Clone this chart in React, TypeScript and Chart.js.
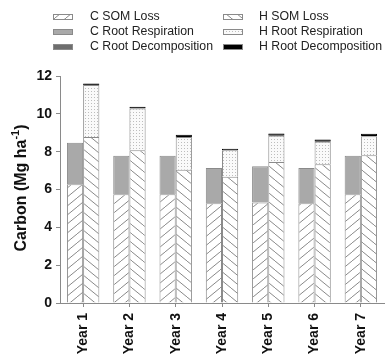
import React, { useEffect, useRef } from "react";
import { Chart, registerables } from "chart.js";
Chart.register(...registerables);

const years = ["Year 1", "Year 2", "Year 3", "Year 4", "Year 5", "Year 6", "Year 7"];
const cSomLoss = [6.28, 5.75, 5.75, 5.27, 5.31, 5.27, 5.75];
const cRootResp = [2.19, 2.03, 2.03, 1.87, 1.92, 1.87, 2.03];
const cRootDecomp = [0, 0, 0, 0, 0, 0, 0];
const hSomLoss = [8.78, 8.08, 7.05, 6.67, 7.46, 7.34, 7.81];
const hRootResp = [2.75, 2.2, 1.73, 1.41, 1.38, 1.18, 1.01];
const hRootDecomp = [0.08, 0.09, 0.11, 0.08, 0.12, 0.12, 0.13];
const yTicks = [0, 2, 4, 6, 8, 10, 12];

const FONT = "'Liberation Sans', Arial, sans-serif";
const EDGE = "#8a8a8a";

function hatch(dir: "/" | "\\"): CanvasPattern {
  const w = 11, h = 9;
  const c = document.createElement("canvas");
  c.width = w; c.height = h;
  const g = c.getContext("2d")!;
  g.fillStyle = "#fff";
  g.fillRect(0, 0, w, h);
  g.strokeStyle = "#7a7a7a";
  g.lineWidth = 0.9;
  const seg = (x1: number, y1: number, x2: number, y2: number) => {
    g.beginPath(); g.moveTo(x1, y1); g.lineTo(x2, y2); g.stroke();
  };
  for (const ox of [-w, 0, w]) {
    if (dir === "/") seg(ox, h, ox + w, 0);
    else seg(ox, 0, ox + w, h);
  }
  return g.createPattern(c, "repeat")!;
}

function dots(): CanvasPattern {
  const c = document.createElement("canvas");
  c.width = 3; c.height = 3;
  const g = c.getContext("2d")!;
  g.fillStyle = "#fafafa";
  g.fillRect(0, 0, 3, 3);
  g.fillStyle = "#bdbdbd";
  g.fillRect(1, 1, 1, 1);
  return g.createPattern(c, "repeat")!;
}

export default function App() {
  const ref = useRef<HTMLCanvasElement | null>(null);
  useEffect(() => {
    document.body.style.margin = "0";
    const cPat = hatch("/");
    const hPat = hatch("\\");
    const dPat = dots();
    const legendItems = [
      { label: "C SOM Loss", fill: cPat as any, col: 0, row: 0 },
      { label: "H SOM Loss", fill: hPat as any, col: 1, row: 0 },
      { label: "C Root Respiration", fill: "#a9a9a9", col: 0, row: 1 },
      { label: "H Root Respiration", fill: dPat as any, col: 1, row: 1 },
      { label: "C Root Decomposition", fill: "#6e6e6e", col: 0, row: 2 },
      { label: "H Root Decomposition", fill: "#000000", col: 1, row: 2 },
    ];
    const legendPlugin = {
      id: "customLegend",
      afterDraw(chart: any) {
        const ctx = chart.ctx as CanvasRenderingContext2D;
        ctx.save();
        ctx.font = `12.3px ${FONT}`;
        ctx.textBaseline = "middle";
        const swX = [53, 223];
        const txX = [90, 259];
        const rowY = [17, 32, 47];
        for (const it of legendItems) {
          const x = swX[it.col], y = rowY[it.row];
          ctx.fillStyle = it.fill;
          ctx.fillRect(x, y - 3, 20, 6);
          ctx.strokeStyle = EDGE;
          ctx.lineWidth = 1;
          ctx.strokeRect(x + 0.5, y - 2.5, 19, 5);
          ctx.fillStyle = "#222";
          ctx.fillText(it.label, txX[it.col], y);
        }
        // y title
        ctx.translate(22, 188);
        ctx.rotate(-Math.PI / 2);
        const big = `bold 16px ${FONT}`;
        const small = `bold 11px ${FONT}`;
        const p1 = "Carbon (Mg ha";
        const p2 = "-1";
        const p3 = ")";
        ctx.font = big;
        const w1 = ctx.measureText(p1).width;
        const w3 = ctx.measureText(p3).width;
        ctx.font = small;
        const w2 = ctx.measureText(p2).width;
        const total = w1 + w2 + w3;
        let x = -total / 2;
        ctx.fillStyle = "#111";
        ctx.textBaseline = "middle";
        ctx.font = big;
        ctx.fillText(p1, x, 0);
        x += w1;
        ctx.font = small;
        ctx.fillText(p2, x, -6);
        x += w2;
        ctx.font = big;
        ctx.fillText(p3, x, 0);
        ctx.restore();
      },
    };
    const common = { borderColor: EDGE, borderWidth: 1, barPercentage: 1, categoryPercentage: 0.7 };
    const chart = new Chart(ref.current!, {
      type: "bar",
      data: {
        labels: years,
        datasets: [
          { label: "C SOM Loss", data: cSomLoss, stack: "C", backgroundColor: cPat, ...common },
          { label: "C Root Respiration", data: cRootResp, stack: "C", backgroundColor: "#a9a9a9", ...common },
          { label: "C Root Decomposition", data: cRootDecomp, stack: "C", backgroundColor: "#6e6e6e", ...common, borderWidth: 0 },
          { label: "H SOM Loss", data: hSomLoss, stack: "H", backgroundColor: hPat, ...common },
          { label: "H Root Respiration", data: hRootResp, stack: "H", backgroundColor: dPat, ...common },
          { label: "H Root Decomposition", data: hRootDecomp, stack: "H", backgroundColor: "#000", ...common, borderColor: "#000" },
        ] as any,
      },
      options: {
        animation: false,
        responsive: false,
        maintainAspectRatio: false,
        layout: { padding: { top: 76, right: 2, left: 0, bottom: 0 } },
        plugins: { legend: { display: false }, tooltip: { enabled: false }, title: { display: false } },
        scales: {
          x: {
            stacked: true,
            offset: true,
            grid: { display: true, drawOnChartArea: false, drawTicks: true, tickLength: 4, color: EDGE, offset: false },
            border: { color: EDGE, width: 1 },
            ticks: {
              minRotation: 90,
              maxRotation: 90,
              padding: 6,
              color: "#111",
              font: { family: FONT, size: 14, weight: "bold" },
            },
            afterFit(scale: any) { scale.height = 59; },
          },
          y: {
            stacked: true,
            min: 0,
            max: 12,
            afterBuildTicks(scale: any) { scale.ticks = yTicks.map((v) => ({ value: v })); },
            grid: { display: true, drawOnChartArea: false, drawTicks: true, tickLength: 4, color: EDGE },
            border: { color: EDGE, width: 1 },
            ticks: {
              padding: 4,
              color: "#111",
              font: { family: FONT, size: 14, weight: "bold" },
            },
            afterFit(scale: any) { scale.width = 60; },
          },
        },
      } as any,
      plugins: [legendPlugin],
    });
    return () => chart.destroy();
  }, []);
  return (
    <div style={{ position: "absolute", left: 0, top: 0, width: 386, height: 362, background: "#fff" }}>
      <canvas ref={ref} width={386} height={362} style={{ width: 386, height: 362 }} />
    </div>
  );
}
